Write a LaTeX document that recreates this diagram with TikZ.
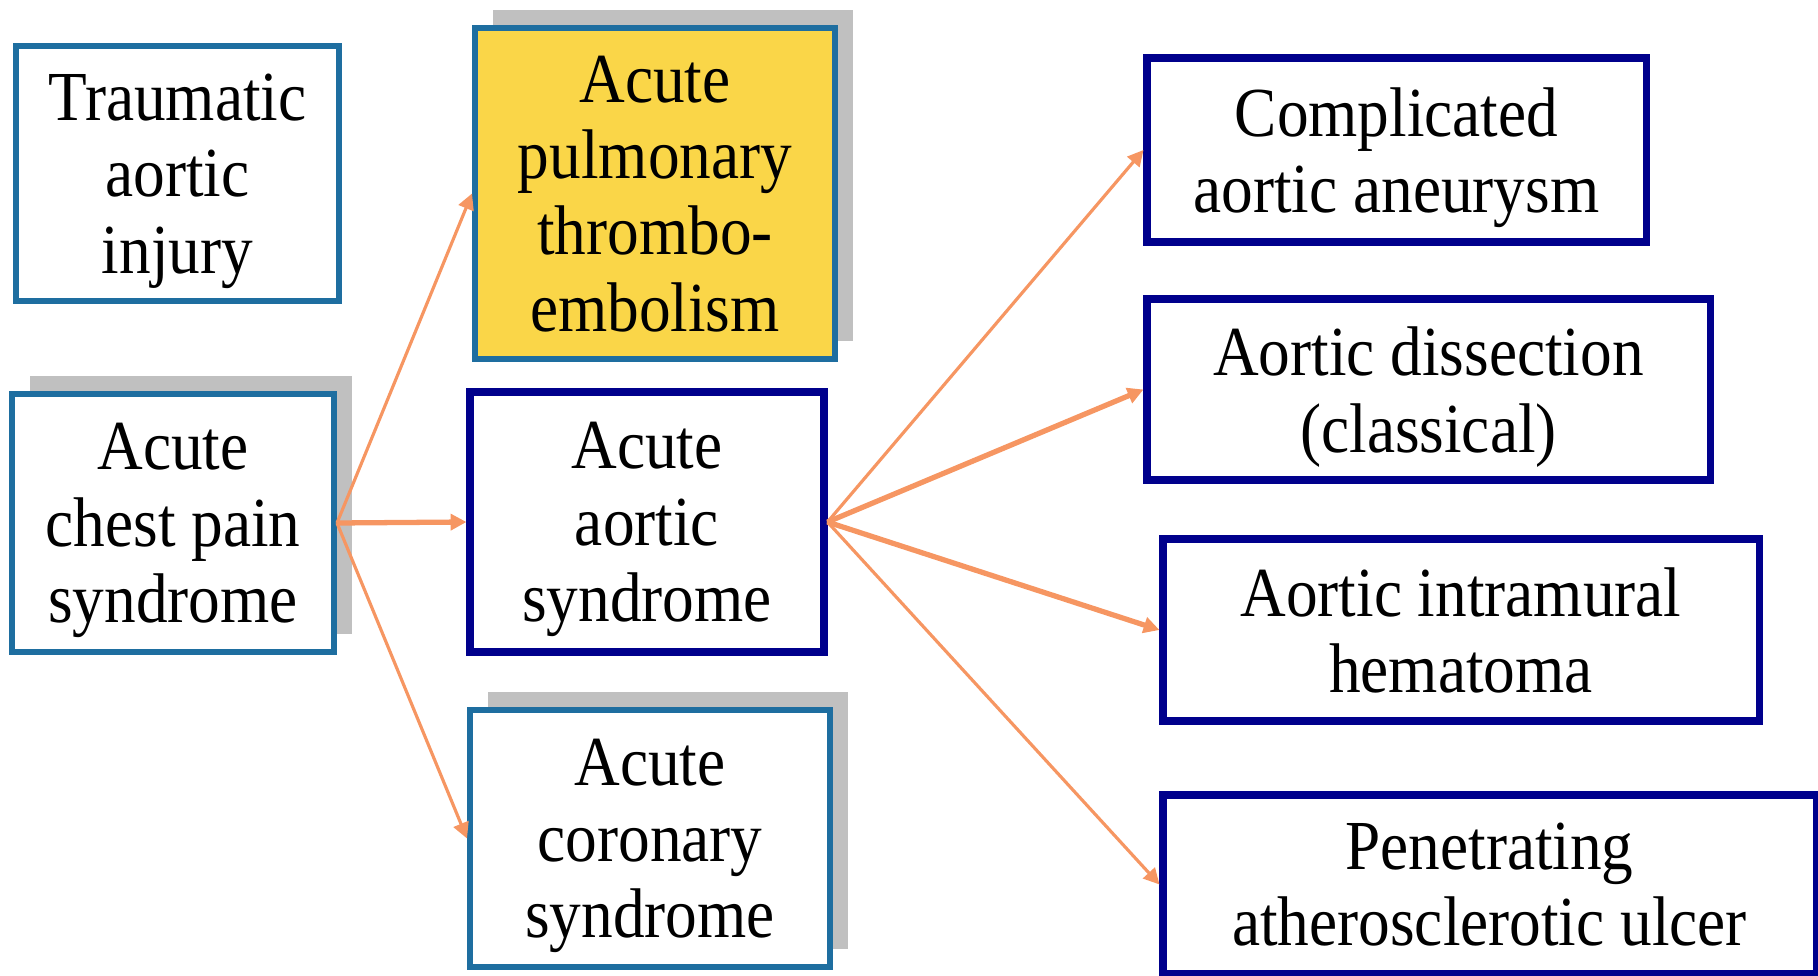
\documentclass[tikz,border=0pt]{standalone}
\usepackage{fontspec}
\setmainfont{Liberation Serif}[FakeStretch=0.9]
\usetikzlibrary{arrows.meta,shadows}
\definecolor{lightframe}{RGB}{30,110,160}
\definecolor{darkframe}{RGB}{0,0,140}
\definecolor{pefill}{RGB}{250,214,72}
\definecolor{shade}{RGB}{192,192,192}
\definecolor{link}{RGB}{246,150,98}

\begin{document}
\begin{tikzpicture}[box/.style={rectangle, draw=lightframe, line width=1.7pt,
      fill=white, align=center, inner sep=0pt, text depth=0pt,
      font=\fontsize{20}{21.7}\selectfont},
    darkbox/.style={box, draw=darkframe, line width=2pt},
    shadowed/.style={general shadow={shadow xshift=0.18cm,
        shadow yshift=0.18cm, fill=shade}}]
  \useasboundingbox (0,0) rectangle (18.18,-9.76);

  % left column
  \node [box, minimum width=3.23cm, minimum height=2.55cm] (trauma) at (1.775,-1.735)
  {Traumatic\\aortic\\injury};
  \node [box, shadowed, minimum width=3.22cm, minimum height=2.58cm] (chest) at (1.73,-5.23)
  {Acute\\chest pain\\syndrome};

  % middle column
  \node [box, shadowed, fill=pefill, minimum width=3.6cm, minimum height=3.31cm] (pe) at (6.55,-1.935)
  {Acute\\pulmonary\\thrombo-\\embolism};
  \node [darkbox, minimum width=3.54cm, minimum height=2.6cm] (aas) at (6.47,-5.22)
  {Acute\\aortic\\syndrome};
  \node [box, shadowed, minimum width=3.6cm, minimum height=2.57cm] (acs) at (6.50,-8.385)
  {Acute\\coronary\\syndrome};

  % right column
  \begin{scope}[every node/.style={darkbox}]
    \node [minimum width=4.99cm, minimum height=1.84cm] (aneur) at (13.965,-1.50)
    {Complicated\\aortic aneurysm};
    \node [minimum width=5.63cm, minimum height=1.81cm] (diss) at (14.285,-3.895)
    {Aortic dissection\\(classical)};
    \node [minimum width=5.96cm, minimum height=1.82cm] (imh) at (14.61,-6.30)
    {Aortic intramural\\hematoma};
    \node [minimum width=6.53cm, minimum height=1.79cm] (pau) at (14.895,-8.845)
    {Penetrating\\atherosclerotic ulcer};
  \end{scope}

  \begin{scope}[-{Triangle[length=4.5pt,width=4.5pt]}, draw=link, line width=0.9pt]
    \draw (chest.east) -- (pe.west);
    \draw [line width=1.5pt] (chest.east) -- (aas.west);
    \draw (chest.east) -- (acs.west);
    \draw (aas.east) -- (aneur.west);
    \draw [line width=1.5pt] (aas.east) -- (diss.west);
    \draw [line width=1.5pt] (aas.east) -- (imh.west);
    \draw (aas.east) -- (pau.west);
  \end{scope}
\end{tikzpicture}
\end{document}
